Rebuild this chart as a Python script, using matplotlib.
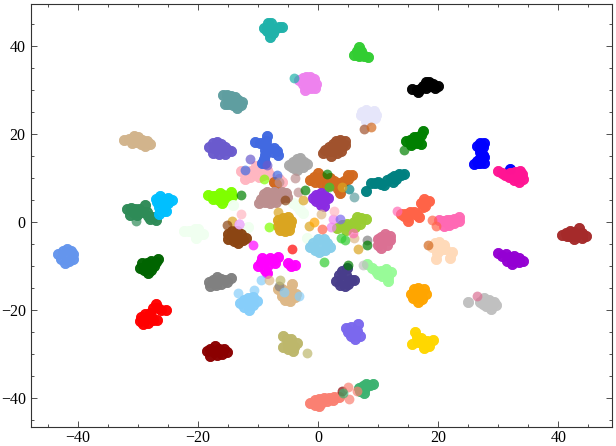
import matplotlib
matplotlib.use("Agg")
import matplotlib.pyplot as plt
from matplotlib.ticker import MultipleLocator

# cluster cores, points
lightseagreen = [(-8.3,45.2),(-7.9,45.2),(-9.0,44.2),(-8.5,44.2),(-7.8,44),(-7.2,44),(-6.5,44.4),(-6.0,44.4),(-8.2,43.2),(-7.6,43),(-8.0,42.2),(-8.5,43.6)]
violet = [(-3.2,32.3),(-2.6,32.8),(-2,33),(-1.3,33),(-0.7,32.5),(-0.4,31.5),(-2.6,31.5),(-1.8,31.8),(-1,31.7),(-2,30.7),(-1.2,30.5),(-0.5,30.5),(-2.2,30)]
cadetblue = [(-15.9,28.9),(-15.2,29),(-14.5,28.7),(-13.9,28.5),(-13.3,27.8),(-12.7,27.3),(-12.8,26.6),(-13.6,26.1),(-14.2,26.6),(-15,27),(-15.6,27),(-14.9,28),(-14.2,27.6)]
tan_c = [(-32.3,18.8),(-31.5,19),(-30.7,19.6),(-30,19.3),(-29.3,18.7),(-28.5,18.4),(-28,17.9),(-28.8,17.3),(-29.5,17.9),(-30.3,18.2),(-31,18.1)]
slateblue = [(-18.2,17.2),(-17.6,18),(-16.8,18.3),(-16.2,17.8),(-15.6,17.1),(-15,16.4),(-14.6,16.1),(-15.5,15.5),(-16.5,15.6),(-17.5,15.7),(-17.3,16.8),(-16.5,16.8),(-15.8,16.5)]
royalblue = [(-8.6,19.6),(-8.7,18.6),(-10.5,18.3),(-9.7,18),(-8.9,17.5),(-8.2,17),(-7.4,16.8),(-6.8,16.3),(-6.7,15.3),(-7.6,15.9),(-8.8,16.5),(-8.9,15.4),(-9,14.5),(-9.4,13.5),(-8.8,13.5)]
lightpink = [(-12.8,11.6),(-12,11.5),(-11.2,11.7),(-10.3,12.7),(-9.5,12),(-8.6,12),(-8.2,11),(-9.2,10.8),(-10.3,11),(-11.4,10.4),(-12.2,9.9),(-9.8,10.2),(-6.7,9.6),(-7.3,9.2),(-6,9.1),(-6.5,9.8)]
darkgray = [(-4.8,13),(-4.2,13.7),(-3.6,14.4),(-3,14.7),(-2.4,13.8),(-1.9,13.2),(-2.6,12.6),(-3.3,12.8),(-4,12.4),(-3.6,12),(-4.4,12.6),(-3,13.8)]
chocolate = [(-1.4,9.6),(-0.7,10.4),(0,11.2),(0.6,10.4),(1.2,9.6),(1.9,10),(2.6,9.3),(3.1,8.6),(2.2,8.4),(1.4,8.3),(0.5,9),(-0.5,9.2),(3.7,9),(4.3,9.5),(5.0,9.9),(5.6,10.8),(4.9,10.7),(3.7,6.6),(3.3,7.5),(-7.4,9.2),(-7,8.8)]
sienna = [(4.4,18.6),(3.7,18.8),(3,18.4),(2.4,17.8),(1.8,17.1),(1.2,16.4),(2.2,16.3),(3,16.8),(3.9,17.4),(4.4,17.6),(3.8,16.1),(3.2,15.7),(2.1,15),(0.8,15.8),(2.7,17.2),(3.4,17.6)]
limegreen = [(6.8,39.8),(6.4,38.9),(7.2,38.9),(6,38),(6.7,38),(7.4,38),(8.3,37.5),(7.7,37.9),(6.8,37.7)]
black = [(15.7,30.2),(16.4,30),(17,30.4),(17.4,31),(17.9,31.9),(18.5,32),(19.2,31.4),(19.9,31),(19.5,30.6),(18.6,31),(17.9,30.6),(16.6,29.6)]
lavender = [(8,25.6),(7.3,25),(7.2,24.4),(7.9,24),(8.6,24.3),(9.3,25.2),(9.6,24.4),(9.4,23.7),(8.5,23.6),(8.1,23),(8.7,25),(7.9,23)]
green = [(17.4,20.7),(17.1,19.8),(16.5,19.4),(15.9,19.3),(15.3,18.8),(14.7,18.4),(15.6,18),(16.4,18),(17.1,17.9),(16.7,18.7),(15.4,17.5)]
blue = [(27.7,18),(27,18),(26.5,17.3),(27,16.6),(27.5,17.2),(26.9,15.9),(27.5,15.2),(26.9,14.6),(27.6,14.8),(26.4,14),(27,13.5),(27.7,13.4),(25.9,13.2),(26.6,13.4),(32,12.2)]
deeppink = [(29.9,11.7),(30.6,11.3),(31.2,10.8),(31.8,10.3),(32.6,9.7),(33.5,9.2),(34.2,9.9),(33.9,10.9),(33.6,11.6),(32.8,11.5),(32.2,11.2),(31.9,11.3),(32.6,10.5),(33.2,10.4)]
teal = [(8,7.2),(8.8,9),(9.4,9),(10,9.2),(10.4,8.7),(10.9,8.4),(12.1,10),(12.7,10.6),(13.5,10.9),(14.3,11),(13,9.8),(12.4,9.2),(11.5,9.6),(13.8,10.7)]
tomato = [(17.7,5.3),(17.1,4.4),(17.7,4.6),(18.5,4.8),(17.8,3.8),(17.4,3.4),(13.8,1.8),(14.5,2),(15.3,2.4),(15.9,2.4),(16.4,1.7),(15,1.2),(14.9,0.3),(14.3,1.4),(16.8,1.2)]
hotpink = [(20.2,0.5),(20.8,0.3),(21.4,0.6),(22,0.6),(22.6,0.8),(23.5,1.1),(23.5,0.3),(22.7,-0.1),(21.8,-0.5),(21,-0.8),(22,0.1)]
chartreuse = [(-18.3,6.2),(-17.6,6),(-17,6),(-16.4,6.7),(-15.8,6.2),(-15,6),(-14.6,7),(-14.4,5.9),(-15.2,5.2),(-16.1,4.4),(-16.6,5),(-17.5,5.2),(-15.8,5.3)]
rosybrown = [(-9.9,4.3),(-9.6,5.3),(-9.1,6.4),(-8.5,7),(-7.9,6.5),(-7.3,6.8),(-6.6,6.4),(-6,6.9),(-5.3,6.6),(-5.2,5.8),(-6.2,5.5),(-7.2,5.4),(-8.2,5.5),(-8.8,4.6),(-8,4.3),(-7,4.6)]
blueviolet = [(-0.9,5.5),(-0.3,6.3),(0.4,6.7),(1,6.2),(1.6,5.5),(1,4.8),(0.4,5.2),(-0.3,4.8),(0.4,4),(0.9,3.8)]
deepskyblue = [(-27,5.4),(-26.4,5.9),(-25.7,5.3),(-25,5.6),(-24.3,5),(-25,4.4),(-26,4.4),(-26.5,3.5),(-25.5,3.4),(-25.9,2.5),(-26.5,2),(-25.3,2.6),(-26.9,4.6)]
seagreen = [(-31.9,3),(-31.2,3.2),(-30.5,3.1),(-29.8,3.1),(-28.9,3.9),(-29.2,2.4),(-30,2.4),(-30.9,2.3),(-31.4,1.6),(-30.2,1.6),(-28.4,1.5),(-27.5,1.2),(-27.1,0.6),(-28,0.8),(-28.5,2.4)]
goldenrod = [(-6.7,0.5),(-5.8,1),(-5.1,1.1),(-4.6,0.3),(-4.7,-0.7),(-4.8,-1.7),(-5.6,-2),(-6.4,-1.7),(-6.7,-0.8),(-5.7,-0.4),(-5.2,0.2)]
orange = [(15.5,-16.3),(16,-15.2),(16.7,-14.9),(17.6,-15.2),(18,-16.4),(17.3,-17.5),(16.6,-18.2),(15.8,-17.3),(16.6,-16.4),(17.2,-16.2)]
yellowgreen = [(3.2,-1.2),(4,-0.7),(4.7,-1.8),(5.3,-0.8),(5.9,0),(6.5,1.1),(7.1,0.9),(7.9,0.7),(7,-0.4),(6.2,-1),(4.8,-0.3)]
skyblue = [(-1.4,-5.5),(-0.8,-4.6),(0,-3.9),(0.9,-3.8),(1.4,-4.8),(1.9,-5.5),(1.1,-6.2),(0.2,-6.8),(-0.6,-6.2),(0.2,-5.2)]
palevioletred = [(9.9,-3.9),(10.5,-3.3),(11.2,-2.7),(11.9,-3.1),(12,-4),(11.4,-5.2),(10.4,-5.9),(9.9,-5.1),(10.8,-4.3),(11.3,-3.9)]
magenta = [(-10,-9.9),(-9.5,-9),(-9.3,-8.1),(-8.6,-8.6),(-8,-8),(-7.4,-8.5),(-6.7,-7.8),(-7.2,-9.2),(-8.4,-9.8),(-8.9,-10.9),(-8.5,-11.5),(-5.1,-9.2),(-4.5,-9.9),(-3.9,-9.7)]
saddlebrown = [(-15,-2.6),(-14.3,-1.9),(-13.5,-1.9),(-12.9,-2.6),(-12.1,-3.5),(-12.5,-4.1),(-13.3,-4.7),(-14,-4.3),(-15,-3.7),(-13.8,-3.2)]
red = [(-27,-18.6),(-27.6,-19.5),(-26.7,-19.4),(-26.2,-20),(-25.3,-19.9),(-28,-20.7),(-28.9,-20.9),(-29.5,-21.6),(-29.7,-22.4),(-29.2,-23.2),(-28.4,-22.8),(-27.6,-22.2),(-26.9,-22.3),(-28.5,-21.8),(-27.8,-21.3)]
darkgreen = [(-29.7,-10.3),(-29.3,-9.3),(-28.5,-9.3),(-27.8,-8.8),(-27.1,-9.1),(-26.7,-8.4),(-27.4,-10),(-27.8,-10.8),(-28.3,-11.5),(-29,-10.9),(-28.4,-10.2)]
cornflowerblue = [(-43.3,-7.3),(-42.6,-6.6),(-41.9,-6),(-41.2,-6.5),(-40.8,-7.3),(-40.9,-8.3),(-41.6,-8.9),(-42.2,-9.2),(-42.9,-8.4),(-42,-7.5)]
honeydew = [(-22.3,-2),(-21.5,-2),(-20.6,-1.6),(-20,-1.6),(-19.2,-2.6),(-20.3,-3.5),(-20.6,-2.6),(-3,2.8),(-3.5,3.8),(-4.2,4.3),(-2.6,2.2),(-14.2,4),(-11.7,-1),(-1.9,-3.6)]
gray_c = [(-18.2,-13.5),(-17.6,-13.2),(-16.9,-12.5),(-16.2,-12.9),(-15.5,-13.1),(-14.6,-12.7),(-15.2,-13.5),(-16.2,-14),(-17,-14.3),(-18,-14.5),(-17.2,-13.7)]
lightskyblue = [(-13,-18.4),(-12.3,-17.6),(-11.7,-17.1),(-10.9,-17),(-10.2,-17.9),(-10.9,-18.7),(-11.6,-20),(-12.3,-19.3),(-11.6,-18.4)]
burlywood = [(-6.7,-15.2),(-6,-15.2),(-5.3,-15.6),(-4.4,-14.1),(-4.6,-15.3),(-3.7,-16.3),(-3.9,-17),(-4.7,-18),(-5.5,-17.6),(-6.1,-16.8),(-5,-16.8)]
darkkhaki = [(-5.8,-25.8),(-5.2,-26.5),(-4.5,-26.6),(-3.6,-27.4),(-4,-28.3),(-4.2,-29.3),(-5,-28.7),(-5.8,-28.3),(-5,-27.5)]
darkred = [(-18.6,-29.3),(-18,-28.9),(-17.2,-28.2),(-16.5,-28.8),(-15.7,-28.7),(-15.2,-29.5),(-16,-30),(-16.9,-30.2),(-18,-30.5),(-17.3,-29.4)]
salmon = [(-1.3,-41),(-0.6,-40.5),(0.2,-40.2),(1,-40),(1.8,-39.9),(2.6,-39.7),(3.5,-39.6),(2.5,-40.3),(1.4,-40.6),(0.5,-41),(0.2,-41.7),(-0.6,-41.5)]
mediumseagreen = [(6.85,-37.6),(7.4,-37.2),(8,-36.7),(8.6,-36.9),(9.1,-36.8),(7.8,-37.6),(7.6,-38.7),(7,-38.4)]
darkslateblue = [(2.9,-13.3),(3.5,-12),(4,-11),(4.8,-10.4),(4.7,-11.9),(5.5,-13),(6,-13),(5,-14),(4.5,-14.5),(3.6,-14.2),(4.2,-13)]
palegreen = [(8.2,-9.5),(8.9,-10.3),(9.6,-11.1),(10.4,-11),(11.3,-10.7),(12.1,-11.4),(11.7,-12.5),(11.6,-13.3),(10.7,-12.3),(10,-11.7)]
peachpuff = [(18.9,-5.5),(19.5,-4.6),(20.2,-4.5),(21,-5.2),(21.2,-6),(20.3,-6.2),(19.8,-7),(22.3,-6.7),(22,-8),(19.7,-8.4),(20,-5.4)]
darkviolet = [(29.9,-7),(30.6,-7.7),(31.3,-7.3),(32,-7.8),(32.7,-7.7),(33.4,-8.2),(34.1,-8.8),(33.4,-9),(32.3,-9.5),(31.5,-8.7),(32.7,-8.8)]
brown = [(40.7,-2.9),(41.3,-2.4),(42,-2),(42.7,-2.1),(43.5,-1.3),(44,-2.4),(44.7,-3),(44,-3.5),(42.7,-3.9),(42,-3.2),(41.5,-3.2),(43,-3)]
silver = [(26.9,-18.1),(27.7,-17.3),(28.5,-17.6),(29.3,-18.2),(29.6,-18.7),(28.8,-19.8),(28,-19),(27.4,-18.6),(28.4,-18.6),(24.9,-18.1)]
mediumslateblue = [(4.6,-24),(5.4,-23.7),(6.6,-23.2),(6.4,-24.6),(6.9,-25.8),(6.2,-26.6),(5.4,-25.9),(5,-25),(5.9,-25)]
gold = [(16.1,-24.9),(16.5,-26),(17.2,-26.4),(15.7,-27.6),(16.6,-27.2),(17.7,-28.5),(18.5,-28.1),(19.05,-26.8),(18.2,-27),(17.4,-27.6)]

clusters = [
    ("lightseagreen", lightseagreen), ("violet", violet), ("cadetblue", cadetblue),
    ("tan", tan_c), ("slateblue", slateblue), ("lightpink", lightpink),
    ("royalblue", royalblue), ("chocolate", chocolate), ("darkgray", darkgray),
    ("sienna", sienna), ("limegreen", limegreen), ("black", black),
    ("lavender", lavender), ("green", green), ("blue", blue), ("deeppink", deeppink),
    ("teal", teal), ("tomato", tomato), ("hotpink", hotpink), ("chartreuse", chartreuse),
    ("honeydew", honeydew), ("rosybrown", rosybrown), ("blueviolet", blueviolet),
    ("seagreen", seagreen), ("deepskyblue", deepskyblue), ("goldenrod", goldenrod),
    ("orange", orange), ("yellowgreen", yellowgreen), ("skyblue", skyblue),
    ("palevioletred", palevioletred), ("magenta", magenta), ("saddlebrown", saddlebrown),
    ("red", red), ("darkgreen", darkgreen), ("cornflowerblue", cornflowerblue),
    ("gray", gray_c), ("burlywood", burlywood), ("lightskyblue", lightskyblue),
    ("darkkhaki", darkkhaki), ("darkred", darkred), ("mediumseagreen", mediumseagreen),
    ("salmon", salmon), ("darkslateblue", darkslateblue), ("palegreen", palegreen),
    ("peachpuff", peachpuff), ("darkviolet", darkviolet), ("brown", brown),
    ("silver", silver), ("mediumslateblue", mediumslateblue), ("gold", gold),
]

# single points away from their own cluster
stray_x = [-4.1,-11.4,-8.5,-12.2,-6.8,-12.8,-6.5,-3.9,-3.3,7.7,8.8,1.4,-2.2,1,4.4,1.8,
           5.2,6,-12.8,-9,-8.2,-5.5,6.6,4,-14.4,-1.5,-2.5,-6.7,-0.7,2.5,2.2,3.6,18.9,19.6,13.2,
           0.6,8.1,8.1,-10.8,-13.2,-15.2,-4.3,-6.5,-9.6,-13.3,-10.7,-5.7,-3.2,-8.2,5.9,0.4,
           -1.9,-6.4,4,4.9,6.45,5.05,4.2,26.4,18.3,4.9,14.3,-30.4,
           -13.2,2.6,5.8,3.8,7.5]
stray_y = [32.9,14.5,13,11.9,10.7,6.3,9.2,10,7,21.3,21.7,11,7.3,-9,-4,8,
           7.5,5.7,2,9.8,-1,5.1,-6.1,8.1,0.4,-0.8,5,2.4,0,0.7,-1,0.7,0.6,-0.8,2.6,
           -1.6,-4,-5.2,-5.2,-0.4,-0.6,-6.1,-14.5,-13.2,-16,-15.4,-15.8,-16.7,-13,-3.6,1.9,
           -29.6,-13.2,-38.3,-37.4,-38.4,-40.2,-38.9,-16.8,-5.2,-9.8,16.4,0.4,
           -0.4,2.6,-2.5,-3.5,-9.7]
stray_c = ["lightseagreen","slateblue","slateblue","royalblue","royalblue","green","rosybrown","rosybrown","rosybrown","sienna","chocolate","green","green","limegreen","limegreen","limegreen",
           "teal","cadetblue","lightpink","chartreuse","chartreuse","saddlebrown","goldenrod","goldenrod","goldenrod","goldenrod","goldenrod","goldenrod","orange","violet","violet","mediumslateblue","tomato","tomato","hotpink",
           "tomato","gray","green","magenta","magenta","saddlebrown","red","gray","lightskyblue","lightskyblue","lightskyblue","lightskyblue","lightskyblue","burlywood","burlywood","burlywood",
           "darkkhaki","darkkhaki","darkred","salmon","salmon","salmon","mediumseagreen","palevioletred","chocolate","green","green","seagreen",
           "lavender","lightpink","hotpink","limegreen","silver"]

plt.rcParams["font.family"] = "Liberation Serif"
plt.rcParams["font.size"] = 11.5

fig = plt.figure(figsize=(6.16, 4.46), dpi=100)
ax = fig.add_axes([31.3 / 616, 1 - 427.3 / 446, 581 / 616, 423.6 / 446])

for color, pts in clusters:
    xs = [p[0] for p in pts]
    ys = [p[1] for p in pts]
    # drawn a few times so the middle of a cluster ends up solid
    for i in range(3):
        ax.scatter(xs, ys, c=color, s=60, alpha=0.7, linewidths=0)
for i in range(len(stray_x)):
    ax.scatter(stray_x[i], stray_y[i], c=stray_c[i], s=50, alpha=0.7, linewidths=0)

ax.set_xlim(-47.8, 49)
ax.set_ylim(-46.6, 49.7)
ax.xaxis.set_major_locator(MultipleLocator(20))
ax.xaxis.set_minor_locator(MultipleLocator(5))
ax.yaxis.set_major_locator(MultipleLocator(20))
ax.yaxis.set_minor_locator(MultipleLocator(5))
ax.tick_params(which="both", direction="in", top=True, right=True, width=0.6, color="#333333")
ax.tick_params(which="major", length=4)
ax.tick_params(which="minor", length=2)
ax.tick_params(axis="x", which="major", pad=2)
ax.tick_params(axis="y", which="major", pad=4)
for s in ax.spines.values():
    s.set_linewidth(0.8)
    s.set_color("#333333")

plt.savefig("out.png", dpi=100)
